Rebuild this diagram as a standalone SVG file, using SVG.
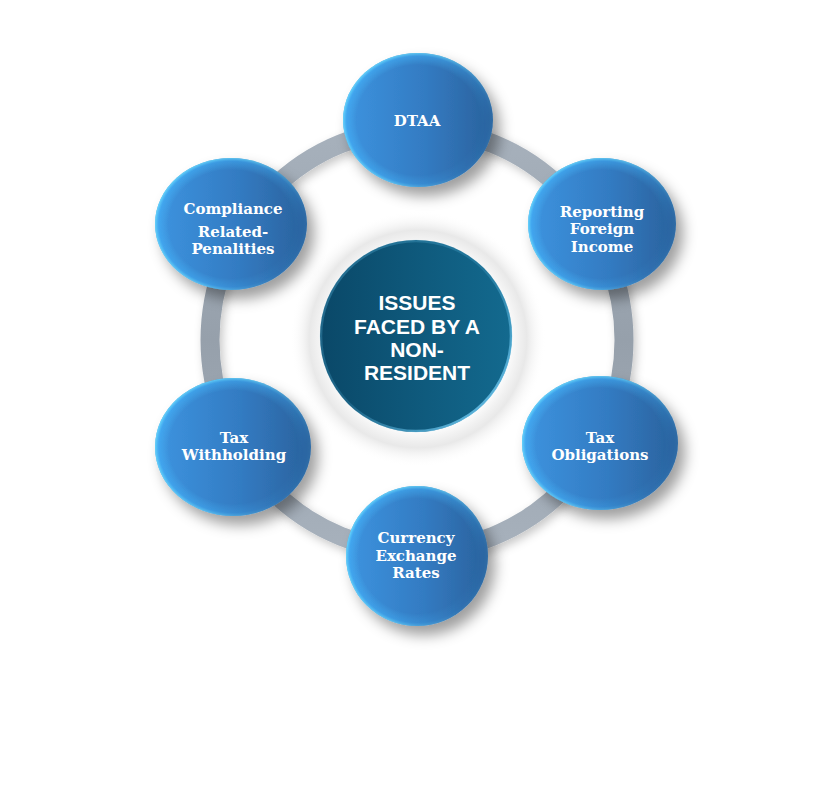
<svg xmlns="http://www.w3.org/2000/svg" width="833" height="807" viewBox="0 0 833 807">
<defs>
<linearGradient id="nodeFill" x1="0" y1="0" x2="1" y2="0">
<stop offset="0" stop-color="#3d94e0"/>
<stop offset="0.55" stop-color="#337bc2"/>
<stop offset="1" stop-color="#2a619c"/>
</linearGradient>
<radialGradient id="nodeRim" cx="0.5" cy="0.5" r="0.5">
<stop offset="0.82" stop-color="#4fc4ff" stop-opacity="0"/>
<stop offset="0.95" stop-color="#45b8ff" stop-opacity="0.55"/>
<stop offset="1" stop-color="#6fe0ff" stop-opacity="0.95"/>
</radialGradient>
<linearGradient id="rimMask" x1="0" y1="0" x2="1" y2="0.4">
<stop offset="0" stop-color="#fff" stop-opacity="1"/>
<stop offset="0.6" stop-color="#fff" stop-opacity="0.7"/>
<stop offset="1" stop-color="#fff" stop-opacity="0.1"/>
</linearGradient>
<mask id="rimM" maskContentUnits="objectBoundingBox">
<rect x="0" y="0" width="1" height="1" fill="url(#rimMask)"/>
</mask>
<linearGradient id="centerFill" x1="0" y1="0" x2="1" y2="0">
<stop offset="0" stop-color="#0a4868"/>
<stop offset="1" stop-color="#136a8f"/>
</linearGradient>
<linearGradient id="cRimGrad" x1="0" y1="0" x2="1" y2="1">
<stop offset="0" stop-color="#5ab8e0" stop-opacity="0.35"/>
<stop offset="0.5" stop-color="#5ab8e0" stop-opacity="0.2"/>
<stop offset="1" stop-color="#7fd6ff" stop-opacity="0.95"/>
</linearGradient>
<radialGradient id="halo" cx="0.5" cy="0.5" r="0.5">
<stop offset="0.7" stop-color="#ffffff" stop-opacity="1"/>
<stop offset="0.85" stop-color="#e6e6e6" stop-opacity="0.9"/>
<stop offset="1" stop-color="#ffffff" stop-opacity="0"/>
</radialGradient>
<linearGradient id="ringGrad" x1="0" y1="0" x2="0" y2="1">
<stop offset="0" stop-color="#a7b1bc"/>
<stop offset="0.5" stop-color="#96a0ab"/>
<stop offset="1" stop-color="#a7b1bc"/>
</linearGradient>
<filter id="shadow" x="-30%" y="-30%" width="170%" height="170%">
<feDropShadow dx="7" dy="9" stdDeviation="7" flood-color="#000" flood-opacity="0.38"/>
</filter>
<filter id="ringShadow" x="-20%" y="-20%" width="140%" height="140%">
<feDropShadow dx="3" dy="4" stdDeviation="5" flood-color="#000" flood-opacity="0.22"/>
</filter>
</defs>
<style>
.lbl{font-family:"DejaVu Serif","Liberation Serif",serif;font-weight:bold;font-size:15px;fill:#fff;text-anchor:middle}
.ctr{font-family:"Liberation Sans",Arial,sans-serif;font-weight:bold;font-size:21px;fill:#fff;text-anchor:middle}
.node{fill:url(#nodeFill);filter:url(#shadow)}
.rim{fill:url(#nodeRim);mask:url(#rimM)}
</style>
<rect width="833" height="807" fill="#fff"/>
<g id="connectors">
<ellipse cx="417" cy="340" rx="207" ry="211" fill="none" stroke="url(#ringGrad)" stroke-width="19" filter="url(#ringShadow)"/>
</g>
<g id="center">
<circle cx="418" cy="339" r="128" fill="url(#halo)"/>
<circle cx="416" cy="336" r="96" fill="url(#centerFill)"/>
<circle cx="416" cy="336" r="95" fill="none" stroke="url(#cRimGrad)" stroke-width="2.5"/>
<text class="ctr" x="417" y="310">ISSUES</text>
<text class="ctr" x="417" y="333.5">FACED BY A</text>
<text class="ctr" x="417" y="357">NON-</text>
<text class="ctr" x="417" y="380">RESIDENT</text>
</g>
<g id="dtaa">
<ellipse class="node" cx="418" cy="120" rx="75" ry="67"/>
<ellipse class="rim" cx="418" cy="120" rx="75" ry="67"/>
<text class="lbl" x="417" y="126">DTAA</text>
</g>
<g id="reporting">
<ellipse class="node" cx="602" cy="224" rx="74" ry="66"/>
<ellipse class="rim" cx="602" cy="224" rx="74" ry="66"/>
<text class="lbl" x="602" y="216.5">Reporting</text>
<text class="lbl" x="602" y="234">Foreign</text>
<text class="lbl" x="602" y="251.5">Income</text>
</g>
<g id="obligations">
<ellipse class="node" cx="600" cy="443" rx="78" ry="67"/>
<ellipse class="rim" cx="600" cy="443" rx="78" ry="67"/>
<text class="lbl" x="600" y="442.5">Tax</text>
<text class="lbl" x="600" y="460">Obligations</text>
</g>
<g id="currency">
<ellipse class="node" cx="417" cy="556" rx="71" ry="70"/>
<ellipse class="rim" cx="417" cy="556" rx="71" ry="70"/>
<text class="lbl" x="416" y="543">Currency</text>
<text class="lbl" x="416" y="560.5">Exchange</text>
<text class="lbl" x="416" y="578">Rates</text>
</g>
<g id="withholding">
<ellipse class="node" cx="233" cy="447" rx="78" ry="69"/>
<ellipse class="rim" cx="233" cy="447" rx="78" ry="69"/>
<text class="lbl" x="234" y="442.5">Tax</text>
<text class="lbl" x="234" y="460">Withholding</text>
</g>
<g id="compliance">
<ellipse class="node" cx="231" cy="224" rx="76" ry="66"/>
<ellipse class="rim" cx="231" cy="224" rx="76" ry="66"/>
<text class="lbl" x="233" y="214">Compliance</text>
<text class="lbl" x="233" y="236.5">Related-</text>
<text class="lbl" x="233" y="254">Penalities</text>
</g>
</svg>
